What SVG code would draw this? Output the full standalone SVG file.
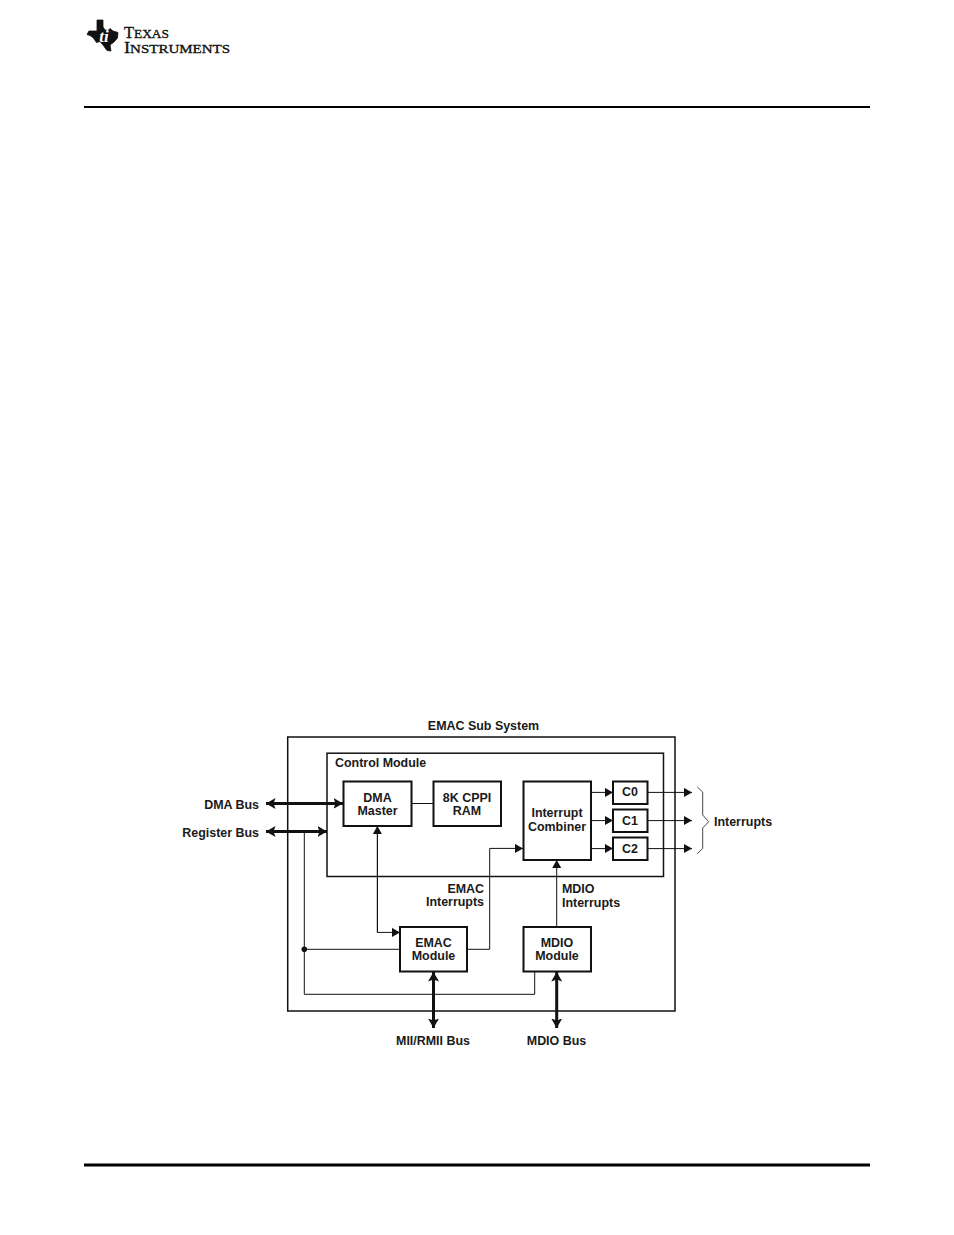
<svg xmlns="http://www.w3.org/2000/svg" width="954" height="1235" viewBox="0 0 954 1235">
<style>
.t{font-family:"Liberation Sans",Arial,sans-serif;font-weight:700;font-size:12.45px;fill:#1a1a1a}
.m{text-anchor:middle}.e{text-anchor:end}
.b{fill:#fff;stroke:#111;stroke-width:2}
.o{fill:none;stroke:#111;stroke-width:1.5}
.l{fill:none;stroke:#111;stroke-width:1}
.h{fill:none;stroke:#111;stroke-width:3}
.lg{font-family:"Liberation Serif",serif;fill:#111;stroke:#111;stroke-width:.35}
</style>
<defs>
<marker id="a" markerUnits="userSpaceOnUse" markerWidth="9" markerHeight="10" refX="8" refY="4.5" orient="auto"><path d="M0,0L8,4.5L0,9Z" fill="#111"/></marker>
<marker id="d" markerUnits="userSpaceOnUse" markerWidth="11" markerHeight="12" refX="9.5" refY="5.5" orient="auto-start-reverse"><path d="M0,0L9.5,5.5L0,11L2,5.5Z" fill="#111"/></marker>
</defs>
<rect width="954" height="1235" fill="#fff"/>
<g id="logo">
<path d="M97,20H103V27L105,30L108,30.5L110,28.5L113,31L118,32.5L117.5,38L114,42L110,45L111,51L107,50.5L103,45L100,41.5L96.5,42.5L93,37.5L90,35.5L87,34.5L89,31H97Z" fill="#111" stroke="#111" stroke-width=".8"/>
<text x="104" y="42" class="lg" font-size="17" font-weight="700" font-style="italic" text-anchor="middle" style="fill:#fff;stroke:none">ti</text>
<text x="124" y="37.5" class="lg" font-size="16.5" textLength="45" lengthAdjust="spacingAndGlyphs">T<tspan font-size="13.5">EXAS</tspan></text>
<text x="124" y="52.5" class="lg" font-size="16.5" textLength="106" lengthAdjust="spacingAndGlyphs">I<tspan font-size="13.5">NSTRUMENTS</tspan></text>
</g>
<rect id="header-rule" x="84" y="106" width="786" height="2" fill="#000"/>
<rect id="footer-rule" x="84" y="1163.5" width="786" height="3" fill="#000"/>
<text class="t m" x="483.5" y="730">EMAC Sub System</text>
<g id="emac-sub-system"><rect class="o" x="287.7" y="737" width="387.3" height="274"/></g>
<g id="control-module"><rect class="o" x="327" y="753.2" width="336.5" height="123.3"/><text class="t" x="335" y="767">Control Module</text></g>
<g id="connectors">
<path class="l" d="M411,803.5H433"/>
<path class="l" d="M377.4,826V932.4H400" marker-end="url(#a)"/>
<path class="l" d="M377.4,932.4V826" marker-end="url(#a)"/>
<path class="l" d="M467,949.3H489.7V848.4H523" marker-end="url(#a)"/>
<path class="l" d="M556.7,927V860" marker-end="url(#a)"/>
<path class="l" d="M591,792.4H613" marker-end="url(#a)"/>
<path class="l" d="M591,820.6H613" marker-end="url(#a)"/>
<path class="l" d="M591,848.6H613" marker-end="url(#a)"/>
<path class="l" d="M647.5,792.4H692" marker-end="url(#a)"/>
<path class="l" d="M647.5,820.6H692" marker-end="url(#a)"/>
<path class="l" d="M647.5,848.6H692" marker-end="url(#a)"/>
<path class="l" d="M304.3,831.5V994.3H534.7V972"/>
<path class="l" d="M304.3,949.3H400"/>
<circle cx="304.3" cy="949.3" r="2.8" fill="#111"/>
<path class="h" d="M266,803.4H343" marker-start="url(#d)" marker-end="url(#d)"/>
<path class="h" d="M266,831.5H327" marker-start="url(#d)" marker-end="url(#d)"/>
<path class="h" d="M433.5,972V1028" marker-start="url(#d)" marker-end="url(#d)"/>
<path class="h" d="M556.7,972V1028" marker-start="url(#d)" marker-end="url(#d)"/>
<path d="M697.3,787L702.7,792V815L708.7,821.7L702.7,828V848.5L697.3,853.7" fill="none" stroke="#333" stroke-width=".9"/>
</g>
<g id="dma-master"><rect class="b" x="343.5" y="781.5" width="68" height="44.5"/><text class="t m" x="377.5" y="802">DMA</text><text class="t m" x="377.5" y="815">Master</text></g>
<g id="cppi-ram"><rect class="b" x="433.5" y="781.5" width="67.5" height="44.5"/><text class="t m" x="467" y="802">8K CPPI</text><text class="t m" x="467" y="815">RAM</text></g>
<g id="interrupt-combiner"><rect class="b" x="523.5" y="781.5" width="67.5" height="78.5"/><text class="t m" x="557" y="817">Interrupt</text><text class="t m" x="557" y="831">Combiner</text></g>
<g id="c0"><rect class="b" x="613" y="781.5" width="34.5" height="22.5"/><text class="t m" x="630" y="796">C0</text></g>
<g id="c1"><rect class="b" x="613" y="809.5" width="34.5" height="22.5"/><text class="t m" x="630" y="825">C1</text></g>
<g id="c2"><rect class="b" x="613" y="837.5" width="34.5" height="22.5"/><text class="t m" x="630" y="853">C2</text></g>
<g id="emac-module"><rect class="b" x="400" y="927" width="67" height="44.5"/><text class="t m" x="433.5" y="946.5">EMAC</text><text class="t m" x="433.5" y="959.5">Module</text></g>
<g id="mdio-module"><rect class="b" x="523.5" y="927" width="67.5" height="44.5"/><text class="t m" x="557" y="946.5">MDIO</text><text class="t m" x="557" y="959.5">Module</text></g>
<g id="labels">
<text class="t e" x="259" y="809">DMA Bus</text>
<text class="t e" x="259" y="837">Register Bus</text>
<text class="t" x="714" y="826">Interrupts</text>
<text class="t e" x="484" y="893">EMAC</text>
<text class="t e" x="484" y="906">Interrupts</text>
<text class="t" x="562" y="893">MDIO</text>
<text class="t" x="562" y="907">Interrupts</text>
<text class="t m" x="433" y="1045">MII/RMII Bus</text>
<text class="t m" x="556.5" y="1045">MDIO Bus</text>
</g>
</svg>
